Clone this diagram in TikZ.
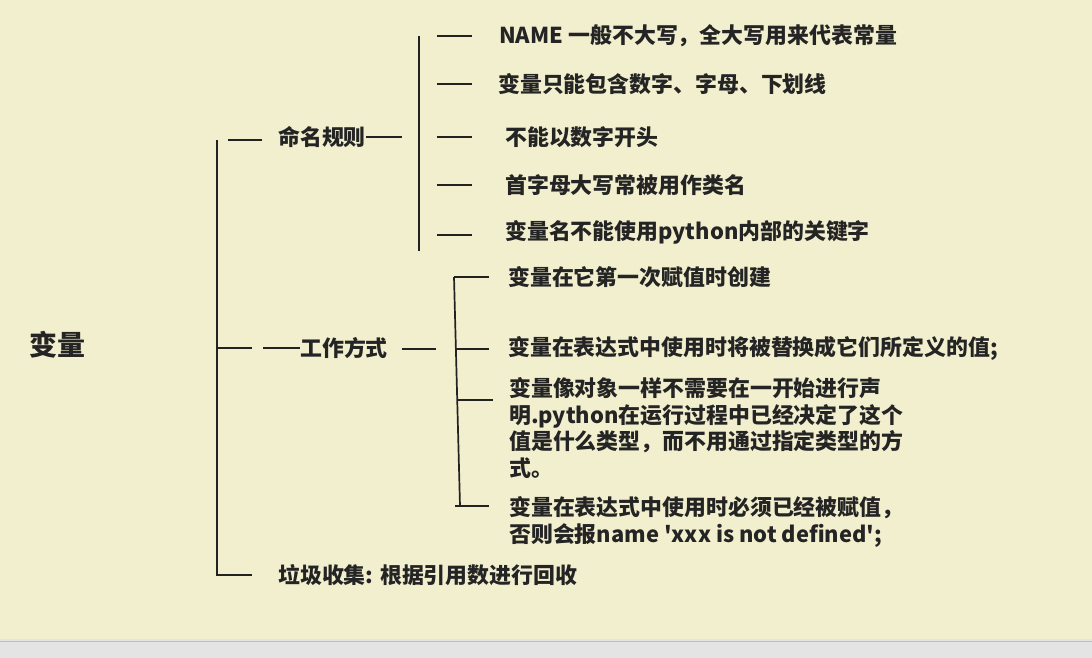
\documentclass[tikz,border=0pt]{standalone}
\usepackage{fontspec}
\setmainfont{Noto Sans CJK SC}[Ligatures=TeXOff]
\definecolor{bg}{RGB}{242,239,206}
\definecolor{gbar}{RGB}{228,228,228}
\definecolor{gline}{RGB}{190,190,190}
\definecolor{lc}{RGB}{34,34,34}
\definecolor{tc}{RGB}{36,36,36}
\begin{document}
\begin{tikzpicture}[x=1pt,y=-1pt,
  ln/.style={line width=1.7pt, draw=lc},
  txt/.style={anchor=west, inner sep=0pt, font=\bfseries\fontsize{21.9}{26.5}\selectfont, text=tc, align=left},
  roottxt/.style={anchor=west, inner sep=0pt, font=\bfseries\fontsize{28}{32}\selectfont, text=tc}]
\useasboundingbox (0,0) rectangle (1092,658);
\fill[bg] (0,0) rectangle (1092,639);
\fill[gbar] (0,639) rectangle (1092,658);
\draw[gline, line width=1.2pt] (0,641.5) -- (1092,641.5);

% root
\node[roottxt] (root) at (29,345) {变量};

% main trunk
\coordinate (mtop) at (217,140);
\coordinate (mbot) at (217,576);
\draw[ln] (mtop) -- (mbot);

% branch 1: 命名规则
\coordinate (b1a) at (228,140);
\coordinate (b1b) at (262,140);
\draw[ln] (b1a) -- (b1b);
\node[txt] (n1) at (278,137) {命名规则};
\coordinate (n1e) at (402,137);
\draw[ln] (n1.east) -- (n1e);
\coordinate (v1t) at (419,36);
\coordinate (v1b) at (419,251);
\draw[ln] (v1t) -- (v1b);
\foreach \y/\i in {36/1,84/2,137/3,185/4,235/5}{
  \coordinate (c1s\i) at (437,\y);
  \coordinate (c1e\i) at (472,\y);
  \draw[ln] (c1s\i) -- (c1e\i);
}
\node[txt] (l11) at (499,36) {NAME 一般不大写，全大写用来代表常量};
\node[txt] (l12) at (498,84) {变量只能包含数字、字母、下划线};
\node[txt] (l13) at (505,137) {不能以数字开头};
\node[txt] (l14) at (505,185) {首字母大写常被用作类名};
\node[txt] (l15) at (505,232) {变量名不能使用python内部的关键字};

% branch 2: 工作方式
\coordinate (b2a) at (217,348);
\coordinate (b2b) at (252,348);
\draw[ln] (b2a) -- (b2b);
\coordinate (b2c) at (263,348);
\node[txt] (n2) at (300,348) {工作方式};
\draw[ln] (b2c) -- (n2.west);
\coordinate (n2s) at (402,349);
\coordinate (n2e) at (436,349);
\draw[ln] (n2s) -- (n2e);
\coordinate (v2t) at (454,277);
\coordinate (v2b) at (460,506);
\draw[ln] (v2t) -- (v2b);
\coordinate (c2s1) at (454,277);   \coordinate (c2e1) at (489,277);
\coordinate (c2s2) at (456,349);   \coordinate (c2e2) at (489,349);
\coordinate (c2s3) at (458,400);   \coordinate (c2e3) at (493,400);
\coordinate (c2s4) at (455,506);   \coordinate (c2e4) at (489,506);
\foreach \i in {1,2,3,4}{\draw[ln] (c2s\i) -- (c2e\i);}
\node[txt] (l21) at (508,277) {变量在它第一次赋值时创建};
\node[txt] (l22) at (508,348) {变量在表达式中使用时将被替换成它们所定义的值;};
\node[txt] (l23) at (509,428) {变量像对象一样不需要在一开始进行声\\明.python在运行过程中已经决定了这个\\值是什么类型，而不用通过指定类型的方\\式。};
\node[txt] (l24) at (509,522) {变量在表达式中使用时必须已经被赋值，\\否则会报name 'xxx is not defined';};

% branch 3: 垃圾收集
\coordinate (b3a) at (217,575);
\coordinate (b3b) at (252,575);
\draw[ln] (b3a) -- (b3b);
\node[txt] (n3) at (278,575) {垃圾收集: 根据引用数进行回收};
\end{tikzpicture}
\end{document}
